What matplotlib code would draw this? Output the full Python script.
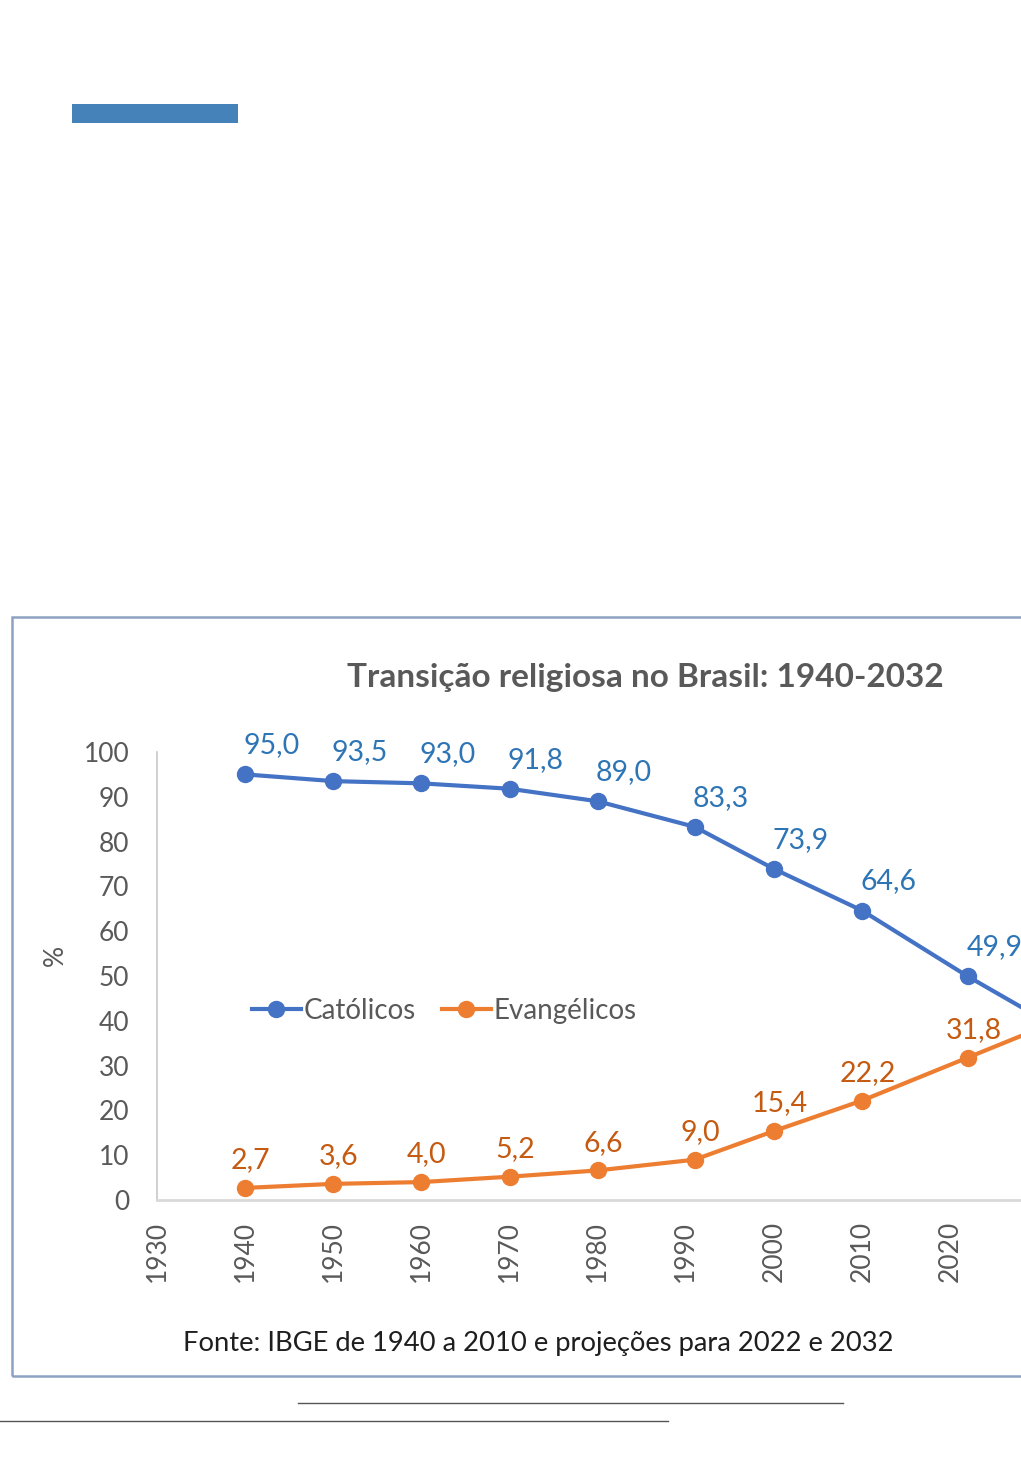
import matplotlib
matplotlib.use("Agg")
import matplotlib.pyplot as plt
from matplotlib.patches import Rectangle
from matplotlib.lines import Line2D

plt.rcParams['font.family'] = ['Lato', 'DejaVu Sans']

# ---- data ----
years = [1940, 1950, 1960, 1970, 1980, 1991, 2000, 2010, 2022, 2032]
catolicos = [95.0, 93.5, 93.0, 91.8, 89.0, 83.3, 73.9, 64.6, 49.9, 38.6]
evangelicos = [2.7, 3.6, 4.0, 5.2, 6.6, 9.0, 15.4, 22.2, 31.8, 39.8]
xticks = list(range(1930, 2041, 10))
yticks = list(range(0, 101, 10))
title = "Transição religiosa no Brasil: 1940-2032"
source = "Fonte: IBGE de 1940 a 2010 e projeções para 2022 e 2032"

W, H = 1021, 1482
fig = plt.figure(figsize=(W / 100, H / 100), dpi=100)
fig.patch.set_facecolor('white')

def fx(px):
    return px / W

def fy(py):
    return 1 - py / H

# decorative blue bar at top-left
fig.add_artist(Rectangle((fx(72), fy(123)), fx(238) - fx(72), fy(104) - fy(123),
                         transform=fig.transFigure, color='#4682BA', lw=0))

# chart border
fig.add_artist(Rectangle((fx(12), fy(1376)), fx(1200) - fx(12), fy(617) - fy(1376),
                         transform=fig.transFigure, facecolor='none',
                         edgecolor='#8DA2C4', lw=1.8))

# footnote lines
fig.add_artist(Line2D([fx(298), fx(843)], [fy(1403), fy(1403)],
                      transform=fig.transFigure, color='#555555', lw=1))
fig.add_artist(Line2D([fx(0), fx(668)], [fy(1421), fy(1421)],
                      transform=fig.transFigure, color='#555555', lw=1))

ax_left, ax_right = 157, 157 + 110 * 8.814
ax_top, ax_bot = 752, 1200
ax = fig.add_axes([fx(ax_left), fy(ax_bot), fx(ax_right) - fx(ax_left), fy(ax_top) - fy(ax_bot)])
ax.set_xlim(1930, 2040)
ax.set_ylim(0, 100)

blue, orange = '#4472C4', '#ED7D31'
blue_txt, orange_txt = '#2E75B6', '#C55A11'

ax.plot(years, catolicos, color=blue, lw=3, marker='o', ms=11.5, label='Católicos', clip_on=False)
ax.plot(years, evangelicos, color=orange, lw=3, marker='o', ms=11.5, label='Evangélicos', clip_on=False)

for x, v in zip(years, catolicos):
    ax.annotate(f"{v:.1f}".replace('.', ','), (x, v), xytext=(19, 21),
                textcoords='offset points', ha='center', va='center',
                fontsize=20.5, color=blue_txt)
for x, v in zip(years, evangelicos):
    ax.annotate(f"{v:.1f}".replace('.', ','), (x, v), xytext=(4, 20),
                textcoords='offset points', ha='center', va='center',
                fontsize=20.5, color=orange_txt)

for s in ['top', 'right']:
    ax.spines[s].set_visible(False)
ax.spines['left'].set_color('#C8C8C8')
ax.spines['left'].set_linewidth(1.2)
ax.spines['bottom'].set_color('#D9D9D9')
ax.spines['bottom'].set_linewidth(2)

ax.set_xticks(xticks)
ax.set_xticklabels([str(t) for t in xticks], rotation=90)
ax.set_yticks(yticks)
ax.tick_params(axis='both', length=0, labelsize=19, labelcolor='#595959')
ax.tick_params(axis='x', pad=15)
ax.tick_params(axis='y', pad=20)

fig.text(fx(55), fy(955), '%', rotation=90, ha='center', va='center',
         fontsize=19, color='#595959')

fig.text(fx(645), fy(677), title, ha='center', va='center', fontsize=24,
         fontweight='bold', color='#595959')

fig.text(fx(538), fy(1343), source, ha='center', va='center', fontsize=19.7,
         color='#1E1E1E')

ax.legend(loc='center left', frameon=False, ncol=2, fontsize=20, labelcolor='#595959',
          handlelength=1.75, handletextpad=0.1, columnspacing=0.95,
          borderaxespad=0, borderpad=0)
leg = ax.get_legend()
leg.set_bbox_to_anchor(((252 - ax_left) / (ax_right - ax_left), (ax_bot - 1011) / (ax_bot - ax_top)))

fig.savefig('out.png', dpi=100)
